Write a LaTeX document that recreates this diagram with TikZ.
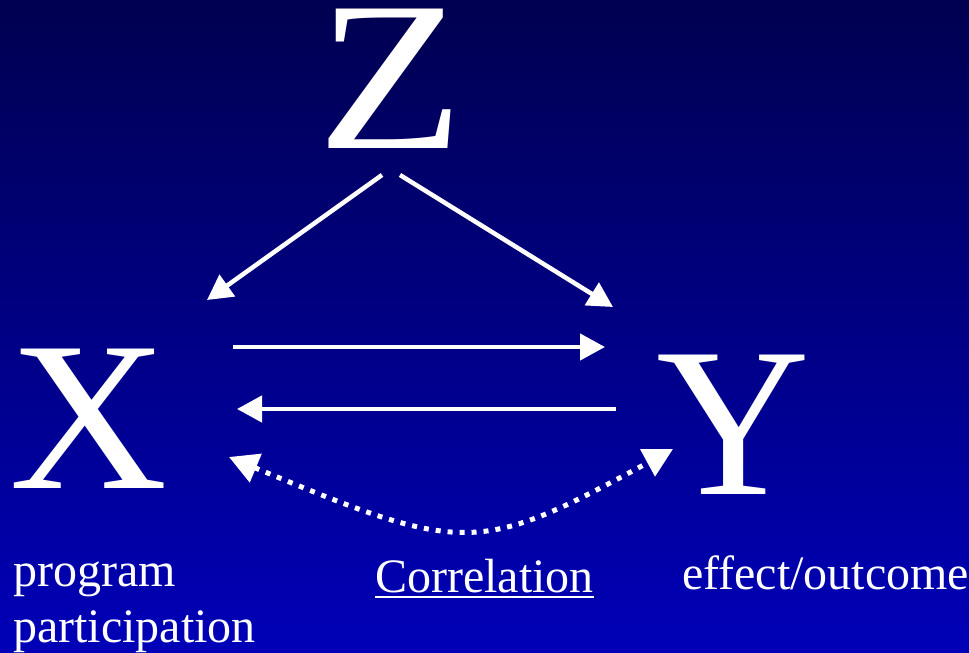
\documentclass[tikz,border=0pt]{standalone}
\usepackage{fontspec}
\setmainfont{Liberation Serif}
\usetikzlibrary{arrows.meta}
\definecolor{bgtop}{RGB}{0,0,80}
\definecolor{bgbot}{RGB}{0,0,184}
\begin{document}
\begin{tikzpicture}[x=1pt,y=-1pt,
 big/.style={text=white,inner sep=0pt,font=\fontsize{213}{213}\selectfont,anchor=base},
 lab/.style={text=white,inner sep=0pt,font=\fontsize{48}{56}\selectfont,anchor=base west},
 solidarrow/.style={draw=white,line width=4.5pt,-{Triangle[length=25pt,width=26pt]}},
 corrarrow/.style={draw=white,line width=5pt,dash pattern=on 5pt off 7pt,{Triangle[length=29pt,width=30pt]}-{Triangle[length=29pt,width=30pt]}}
]
\shade[top color=bgtop,bottom color=bgbot] (0pt,0pt) rectangle (969pt,-653pt);
\useasboundingbox (0pt,0pt) rectangle (969pt,-653pt);
\node[big,xscale=1.127] (Z) at (391,148) {Z};
\node[big,xscale=1.03] (X) at (89,488) {X};
\node[big] (Y) at (733,494) {Y};
\node[lab] (prog) at (13,586) {program};
\node[lab] (part) at (13,642) {participation};
\node[lab] (corr) at (375,592) {Correlation};
\node[lab] (eff) at (682,589) {effect/outcome};
\draw[white,line width=2.5pt] ([yshift=-5pt]corr.base west) -- ([yshift=-5pt]corr.base east);
\coordinate (zxs) at (382,175);
\coordinate (zxe) at (207,300);
\coordinate (zys) at (400,175);
\coordinate (zye) at (613,307);
\coordinate (xys) at (233,347);
\coordinate (xye) at (605,347);
\coordinate (yxs) at (616,409);
\coordinate (yxe) at (237,409);
\coordinate (ca) at (229,457);
\coordinate (cb) at (673,449);
\draw[solidarrow] (zxs) -- (zxe);
\draw[solidarrow] (zys) -- (zye);
\draw[solidarrow] (xys) -- (xye);
\draw[solidarrow] (yxs) -- (yxe);
\draw[corrarrow] (ca) .. controls (465,555) and (478,555) .. (cb);
\end{tikzpicture}
\end{document}
